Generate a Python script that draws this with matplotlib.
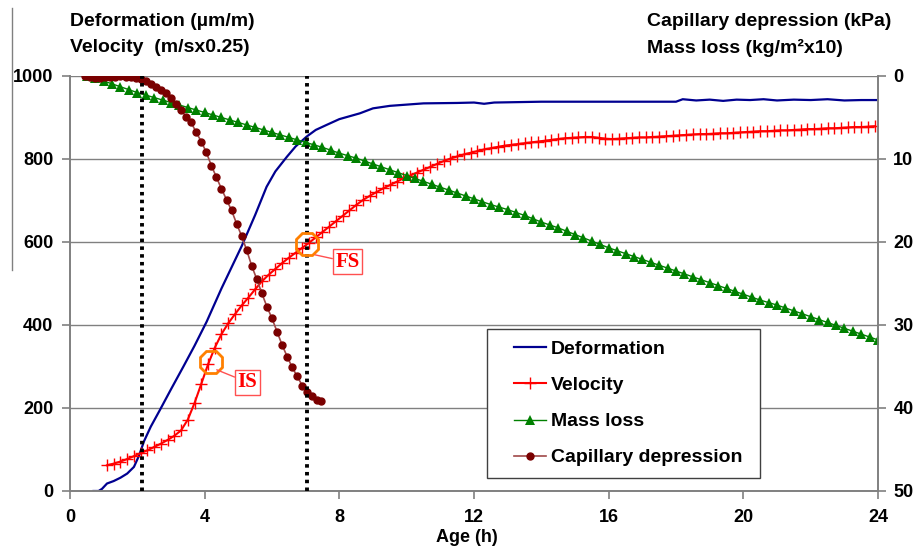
import numpy as np
import matplotlib.pyplot as plt
from matplotlib.lines import Line2D
from matplotlib.legend_handler import HandlerLine2D

plt.rcParams['font.family'] = ['Liberation Sans', 'DejaVu Sans']
plt.rcParams['font.weight'] = 'bold'

# Deformation (um/m), left axis
deform_h = [0.7, 0.85, 0.95, 1.1, 1.3, 1.5, 1.7, 1.9, 2.05, 2.2, 2.4, 2.67, 3.0, 3.37,
            3.7, 4.06, 4.5, 5.1, 5.5, 5.84, 6.1, 6.44, 6.7, 7.03, 7.3, 7.62, 8.0, 8.61,
            9.0, 9.5, 10.5, 11.5, 12.0, 12.3, 12.6, 14.0, 16.0, 18.0, 18.2, 18.6, 19.0,
            19.4, 19.8, 20.2, 20.6, 21.0, 21.5, 22.0, 22.5, 23.0, 23.5, 24.0]
deformation = [0, 0, 5, 18, 24, 32, 42, 58, 85, 120, 155, 195, 245, 300,
               350, 408, 488, 590, 665, 733, 770, 805, 830, 854, 870, 882, 896, 910,
               922, 928, 934, 935, 936, 933, 936, 938, 938, 938, 944, 941, 943,
               940, 943, 942, 944, 941, 943, 942, 944, 941, 942, 942]

# Velocity (m/s x 0.25), left axis, one reading every 0.2 h from 1.1 h
velocity = [62, 66, 71, 77, 84, 91, 98, 106, 114, 123,
            133, 146, 172, 212, 258, 305, 345, 378, 404, 426,
            447, 466, 486, 505, 521, 535, 549, 562, 574, 586,
            598, 611, 624, 637, 650, 663, 676, 689, 701, 711,
            720, 729, 737, 745, 753, 760, 767, 774, 781, 788,
            795, 801, 806, 811, 815, 819, 823, 826, 829, 832,
            834, 836, 838, 840, 842, 844, 846, 848, 850, 851,
            852, 853, 853, 851, 849, 848, 849, 850, 851, 852,
            852, 853, 854, 855, 856, 857, 858, 859, 860, 860,
            861, 862, 862, 863, 864, 865, 866, 867, 867, 868,
            869, 869, 870, 871, 872, 872, 873, 874, 874, 875,
            876, 877, 877, 878, 879]
velocity_h = np.linspace(1.1, 23.9, len(velocity))

# Mass loss (kg/m2 x 10), right axis, one reading every 0.25 h from 0.5 h
mass_loss = [0, 0.3, 0.6, 0.95, 1.3, 1.65, 2.0, 2.3, 2.6, 2.9,
             3.2, 3.5, 3.8, 4.1, 4.4, 4.7, 5.0, 5.3, 5.6, 5.9,
             6.2, 6.5, 6.8, 7.1, 7.4, 7.7, 8.0, 8.3, 8.6, 8.95,
             9.3, 9.6, 9.9, 10.25, 10.6, 10.95, 11.3, 11.65, 12.0, 12.35,
             12.7, 13.05, 13.4, 13.75, 14.1, 14.45, 14.8, 15.15, 15.5, 15.8,
             16.1, 16.45, 16.8, 17.2, 17.6, 17.95, 18.3, 18.7, 19.1, 19.5,
             19.9, 20.3, 20.7, 21.05, 21.4, 21.75, 22.1, 22.45, 22.8, 23.15,
             23.5, 23.85, 24.2, 24.55, 24.9, 25.25, 25.6, 25.95, 26.3, 26.65,
             27.0, 27.3, 27.6, 27.95, 28.3, 28.65, 29.0, 29.35, 29.7, 30.05,
             30.4, 30.75, 31.1, 31.45, 31.8]
mass_h = np.linspace(0.5, 24, len(mass_loss))

# Capillary depression (kPa), right axis
cap_h = [0.45, 0.6, 0.75, 0.9, 1.05, 1.2, 1.35, 1.5, 1.65, 1.8, 1.95, 2.1, 2.25, 2.4,
         2.55, 2.7, 2.85, 3.0, 3.15, 3.3, 3.45, 3.6, 3.75, 3.9, 4.05, 4.2, 4.35, 4.5,
         4.65, 4.8, 4.95, 5.1, 5.25, 5.4, 5.55, 5.7, 5.85, 6.0, 6.15, 6.3, 6.45, 6.6,
         6.75, 6.9, 7.05, 7.2, 7.35, 7.45]
cap_depr = [0, 0.15, 0.2, 0.2, 0.15, 0.1, 0.1, 0.05, 0.1, 0.1, 0.2, 0.4, 0.65, 1.0,
            1.35, 1.7, 2.1, 2.7, 3.4, 4.1, 4.9, 5.6, 6.8, 7.9, 9.2, 10.8, 12.2, 13.6,
            14.9, 16.2, 17.8, 19.3, 21.0, 22.9, 24.5, 26.2, 27.8, 29.2, 30.8, 32.4, 33.8, 35.1,
            36.2, 37.3, 38.1, 38.6, 39.0, 39.2]

# setting stages (h) and their marked points on the velocity curve
stage_h = [2.15, 7.05]
stage_names = ['IS', 'FS']
stage_pts = [(4.2, 312), (7.05, 594)]
stage_text = [(5.27, 262), (8.24, 552)]
stage_leader = [(4.36, 292), (7.28, 569)]

fig = plt.figure(figsize=(9.17, 5.47), dpi=100)
ax = fig.add_axes([0.0763, 0.1024, 0.8812, 0.7587])
ax2 = ax.twinx()

gray = '#808080'
ax.plot(deform_h, deformation, color='#000090', lw=1.6, label='Deformation')
ax.plot(velocity_h, velocity, color='red', lw=1.5, marker='+', ms=8, mew=1,
        label='Velocity')
ax2.plot(mass_h, mass_loss, color='green', lw=1, marker='^', ms=6.5, mew=0,
         label='Mass loss')
ax2.plot(cap_h, cap_depr, color='#a04848', lw=1.2, marker='o', ms=5,
         mfc='#7a0000', mec='#7a0000', label='Capillary depression')

for h in stage_h:
    ax2.axvline(h, color='black', lw=2.8, ls=(0, (0.9, 1.1)), zorder=5)

for name, pt, txt, lead in zip(stage_names, stage_pts, stage_text, stage_leader):
    ax2.plot(pt[0], pt[1], transform=ax.transData, marker='8', ms=17, mfc='none',
             mec='#ff8000', mew=2, zorder=6)
    ax2.annotate(name, xy=lead, xycoords=ax.transData, xytext=txt,
                 textcoords=ax.transData, ha='center', va='center',
                 family='Liberation Serif', fontsize=15, fontweight='bold',
                 color='red', zorder=7,
                 bbox=dict(boxstyle='square,pad=0.12', fc='white', ec='#ff5050', lw=1),
                 arrowprops=dict(arrowstyle='-', color='#ff5050', lw=1,
                                 shrinkA=0, shrinkB=0))

ax.set_xlim(0, 24)
ax.set_ylim(0, 1000)
ax2.set_ylim(50, 0)
ax.set_xticks(range(0, 25, 4))
ax.set_yticks(range(0, 1001, 200))
ax2.set_yticks(range(0, 51, 10))
ax.grid(axis='y', color=gray, lw=1)
ax.set_axisbelow(True)

for a in (ax, ax2):
    a.spines['top'].set_visible(False)
    for s in ('left', 'right', 'bottom'):
        a.spines[s].set_color(gray)
        a.spines[s].set_linewidth(1.2)
    a.tick_params(length=6, width=1.2, color=gray, labelsize=13)
ax.tick_params(axis='x', pad=7)
ax.tick_params(axis='y', pad=6)
ax2.tick_params(axis='y', pad=5)
ax.set_xlabel('Age (h)', fontsize=13, fontweight='bold')
ax.xaxis.set_label_coords(0.491, -0.0916)

handles = ax.get_lines()[:2] + ax2.get_lines()[:2]
leg = ax2.legend(handles=handles, loc='lower left',
                 bbox_to_anchor=(0.516, 0.031, 0.338, 0.357), mode='expand',
                 borderaxespad=0, fancybox=False, fontsize=14, labelspacing=0.95,
                 handlelength=2.42, handletextpad=0.25, borderpad=0.6, framealpha=1,
                 handler_map={Line2D: HandlerLine2D(xpad=0.77)})
leg.get_frame().set_edgecolor('#404040')
leg.get_frame().set_linewidth(1)

fig.text(70 / 917, 1 - 21 / 547, 'Deformation (µm/m)', fontsize=14,
         fontweight='bold', va='center', ha='left')
fig.text(70 / 917, 1 - 48 / 547, 'Velocity  (m/sx0.25)', fontsize=14,
         fontweight='bold', va='center', ha='left')
fig.text(647 / 917, 1 - 21 / 547, 'Capillary depression (kPa)', fontsize=14,
         fontweight='bold', va='center', ha='left')
fig.text(647 / 917, 1 - 48 / 547, 'Mass loss (kg/m²x10)', fontsize=14,
         fontweight='bold', va='center', ha='left')

fig.add_artist(Line2D([12 / 917, 12 / 917], [1 - 8 / 547, 1 - 270 / 547],
                      color=gray, lw=1))

fig.savefig('out.png', dpi=100)
